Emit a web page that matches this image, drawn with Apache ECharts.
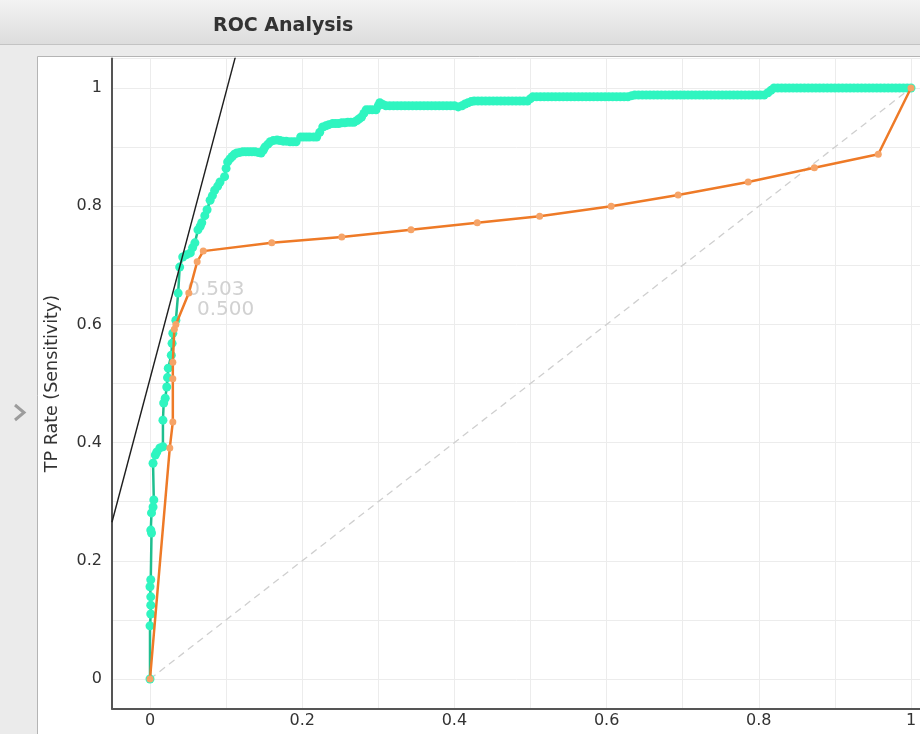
<!DOCTYPE html>
<html>
<head>
<meta charset="utf-8">
<title>ROC Analysis</title>
<script src="https://cdn.jsdelivr.net/npm/echarts@6/dist/echarts.min.js"></script>
<style>
  html, body { margin: 0; padding: 0; background: #ebebeb; }
  #chart { width: 920px; height: 734px; }
</style>
</head>
<body>
<div id="chart"></div>
<script>
// Model A: dense ROC curve, [false positive rate, true positive rate]
const modelAPoints = [
  [0.000, 0.000], [0.000, 0.090], [0.001, 0.110], [0.001, 0.125], [0.001, 0.139],
  [0.000, 0.156], [0.001, 0.168], [0.002, 0.247], [0.001, 0.252], [0.002, 0.281],
  [0.004, 0.291], [0.005, 0.303], [0.004, 0.365], [0.007, 0.379], [0.009, 0.384],
  [0.013, 0.391], [0.017, 0.393], [0.017, 0.438], [0.018, 0.467], [0.020, 0.475],
  [0.022, 0.494], [0.023, 0.510], [0.024, 0.526], [0.028, 0.548], [0.029, 0.568],
  [0.030, 0.585], [0.034, 0.607], [0.037, 0.653], [0.039, 0.697], [0.043, 0.714],
  [0.048, 0.718], [0.053, 0.721], [0.056, 0.730], [0.059, 0.738], [0.063, 0.760],
  [0.066, 0.766], [0.068, 0.772], [0.072, 0.784], [0.075, 0.794], [0.079, 0.810],
  [0.082, 0.818], [0.085, 0.827], [0.089, 0.834], [0.092, 0.841], [0.098, 0.850],
  [0.100, 0.864], [0.102, 0.875], [0.105, 0.880], [0.108, 0.884], [0.111, 0.888],
  [0.114, 0.890], [0.118, 0.891], [0.122, 0.892], [0.126, 0.892], [0.130, 0.892],
  [0.134, 0.892], [0.138, 0.892], [0.142, 0.891], [0.146, 0.890], [0.149, 0.895],
  [0.151, 0.900], [0.155, 0.905], [0.158, 0.909], [0.162, 0.911], [0.167, 0.912],
  [0.171, 0.911], [0.175, 0.910], [0.179, 0.910], [0.184, 0.909], [0.188, 0.909],
  [0.192, 0.909], [0.198, 0.917], [0.202, 0.917], [0.206, 0.917], [0.210, 0.917],
  [0.215, 0.917], [0.219, 0.917], [0.223, 0.925], [0.227, 0.934], [0.231, 0.936],
  [0.235, 0.938], [0.240, 0.940], [0.244, 0.940], [0.248, 0.940], [0.252, 0.941],
  [0.256, 0.941], [0.260, 0.942], [0.264, 0.942], [0.268, 0.942], [0.272, 0.945],
  [0.275, 0.948], [0.278, 0.951], [0.281, 0.957], [0.284, 0.963], [0.288, 0.963],
  [0.292, 0.963], [0.297, 0.963], [0.300, 0.970], [0.302, 0.975], [0.306, 0.972],
  [0.310, 0.970], [0.315, 0.970], [0.320, 0.970], [0.325, 0.970], [0.330, 0.970],
  [0.335, 0.970], [0.340, 0.970], [0.345, 0.970], [0.350, 0.970], [0.355, 0.970],
  [0.360, 0.970], [0.365, 0.970], [0.370, 0.970], [0.375, 0.970], [0.380, 0.970],
  [0.385, 0.970], [0.390, 0.970], [0.395, 0.970], [0.400, 0.970], [0.405, 0.968],
  [0.410, 0.970], [0.414, 0.973], [0.418, 0.975], [0.422, 0.977], [0.426, 0.978],
  [0.431, 0.978], [0.436, 0.978], [0.441, 0.978], [0.446, 0.978], [0.451, 0.978],
  [0.456, 0.978], [0.461, 0.978], [0.466, 0.978], [0.471, 0.978], [0.476, 0.978],
  [0.481, 0.978], [0.486, 0.978], [0.491, 0.978], [0.496, 0.978], [0.500, 0.982],
  [0.503, 0.985], [0.508, 0.985], [0.513, 0.985], [0.518, 0.985], [0.523, 0.985],
  [0.528, 0.985], [0.533, 0.985], [0.538, 0.985], [0.543, 0.985], [0.548, 0.985],
  [0.553, 0.985], [0.558, 0.985], [0.563, 0.985], [0.568, 0.985], [0.573, 0.985],
  [0.578, 0.985], [0.583, 0.985], [0.588, 0.985], [0.593, 0.985], [0.598, 0.985],
  [0.603, 0.985], [0.608, 0.985], [0.613, 0.985], [0.618, 0.985], [0.623, 0.985],
  [0.628, 0.985], [0.633, 0.987], [0.637, 0.988], [0.642, 0.988], [0.647, 0.988],
  [0.652, 0.988], [0.657, 0.988], [0.662, 0.988], [0.667, 0.988], [0.672, 0.988],
  [0.677, 0.988], [0.682, 0.988], [0.687, 0.988], [0.692, 0.988], [0.697, 0.988],
  [0.702, 0.988], [0.707, 0.988], [0.712, 0.988], [0.717, 0.988], [0.722, 0.988],
  [0.727, 0.988], [0.732, 0.988], [0.737, 0.988], [0.742, 0.988], [0.747, 0.988],
  [0.752, 0.988], [0.757, 0.988], [0.762, 0.988], [0.767, 0.988], [0.772, 0.988],
  [0.777, 0.988], [0.782, 0.988], [0.787, 0.988], [0.792, 0.988], [0.797, 0.988],
  [0.802, 0.988], [0.807, 0.988], [0.812, 0.992], [0.816, 0.996], [0.820, 1.000],
  [0.825, 1.000], [0.830, 1.000], [0.835, 1.000], [0.840, 1.000], [0.845, 1.000],
  [0.850, 1.000], [0.855, 1.000], [0.860, 1.000], [0.865, 1.000], [0.870, 1.000],
  [0.875, 1.000], [0.880, 1.000], [0.885, 1.000], [0.890, 1.000], [0.895, 1.000],
  [0.900, 1.000], [0.905, 1.000], [0.910, 1.000], [0.915, 1.000], [0.920, 1.000],
  [0.925, 1.000], [0.930, 1.000], [0.935, 1.000], [0.940, 1.000], [0.945, 1.000],
  [0.950, 1.000], [0.955, 1.000], [0.960, 1.000], [0.965, 1.000], [0.970, 1.000],
  [0.975, 1.000], [0.980, 1.000], [0.985, 1.000], [0.990, 1.000], [0.995, 1.000],
  [1.000, 1.000]
];

// Model B: coarse ROC curve
const modelBFpr = [0.000, 0.026, 0.030, 0.030, 0.030, 0.032, 0.034, 0.051, 0.062, 0.070,
                   0.160, 0.252, 0.343, 0.430, 0.512, 0.606, 0.694, 0.786, 0.873, 0.957, 1.000];
const modelBTpr = [0.000, 0.391, 0.435, 0.508, 0.536, 0.592, 0.600, 0.653, 0.706, 0.724,
                   0.738, 0.748, 0.760, 0.772, 0.783, 0.800, 0.819, 0.841, 0.865, 0.888, 1.000];

// Chance diagonal
const chanceX = [0, 1];
const chanceY = [0, 1];

// Iso-performance line: tpr = intercept + slope * fpr
const isoIntercept = 0.508;
const isoSlope = 4.855;
const isoX = [-0.05, 0.12];

// Threshold annotations near the operating points
const thresholdLabels = ['0.503', '0.500'];
const thresholdX = [0.049, 0.0618];
const thresholdY = [0.658, 0.624];

const axisTicks = ['0', '0.2', '0.4', '0.6', '0.8', '1'];
const yAxisName = 'TP Rate (Sensitivity)';
const titleText = 'ROC Analysis';

const zip = (xs, ys) => xs.map((x, i) => [x, ys[i]]);

function tickFormatter(v) {
  const r = Math.round(v * 10) / 10;
  if (Math.abs(v - r) > 1e-6) return '';
  const s = r === 0 ? '0' : (r === 1 ? '1' : r.toFixed(1));
  return axisTicks.indexOf(s) >= 0 ? s : '';
}

const FONT = '"DejaVu Sans", "Liberation Sans", Arial, sans-serif';

const chart = echarts.init(document.getElementById('chart'), null, { renderer: 'canvas' });

const option = {
  animation: false,
  backgroundColor: '#ebebeb',
  graphic: [
    {
      type: 'rect', z: -10, silent: true,
      shape: { x: 0, y: 0, width: 920, height: 44 },
      style: {
        fill: new echarts.graphic.LinearGradient(0, 0, 0, 1, [
          { offset: 0, color: '#f3f3f3' },
          { offset: 1, color: '#dddddd' }
        ])
      }
    },
    {
      type: 'line', z: -9, silent: true,
      shape: { x1: 0, y1: 44.5, x2: 920, y2: 44.5 },
      style: { stroke: '#c3c3c3', lineWidth: 1 }
    },
    {
      type: 'rect', z: -8, silent: true,
      shape: { x: 37.5, y: 56.5, width: 900, height: 700 },
      style: { fill: '#ffffff', stroke: '#b4b4b4', lineWidth: 1 }
    },
    {
      type: 'text', z: 5, silent: true,
      left: 213, top: 17,
      style: { text: titleText, font: 'bold 19px ' + FONT, fill: '#333333' }
    },
    {
      type: 'polyline', z: 5, silent: true,
      shape: { points: [[15, 405], [24, 412.5], [15, 420]] },
      style: { stroke: '#9c9c9c', lineWidth: 3, fill: null }
    }
  ],
  grid: {
    left: 111.95,
    top: 58.45,
    width: 837.1,
    height: 650.1,
    outerBoundsMode: 'none',
    containLabel: false
  },
  xAxis: {
    type: 'value',
    min: -0.05,
    max: 1.05,
    splitNumber: 11,
    axisLine: { show: true, onZero: false, lineStyle: { color: '#555555', width: 2 } },
    axisTick: { show: false },
    splitLine: { show: true, lineStyle: { color: '#ececec', width: 1 } },
    axisLabel: {
      margin: 4,
      color: '#333333',
      fontSize: 16,
      fontFamily: FONT,
      formatter: tickFormatter,
      hideOverlap: false
    }
  },
  yAxis: {
    type: 'value',
    min: -0.05,
    max: 1.05,
    splitNumber: 11,
    name: yAxisName,
    nameLocation: 'middle',
    nameGap: 50,
    nameTextStyle: { color: '#333333', fontSize: 17.5, fontFamily: FONT },
    axisLine: { show: true, onZero: false, lineStyle: { color: '#555555', width: 2 } },
    axisTick: { show: false },
    splitLine: { show: true, lineStyle: { color: '#ececec', width: 1 } },
    axisLabel: {
      margin: 10,
      color: '#333333',
      fontSize: 16,
      fontFamily: FONT,
      formatter: tickFormatter,
      hideOverlap: false
    }
  },
  series: [
    {
      name: 'chance',
      type: 'line',
      z: 1,
      data: zip(chanceX, chanceY),
      symbol: 'none',
      silent: true,
      lineStyle: { color: '#cfcfcf', width: 1.3, type: [7, 5] }
    },
    {
      name: 'thresholds',
      type: 'scatter',
      z: 1,
      data: zip(thresholdX, thresholdY),
      symbolSize: 0,
      silent: true,
      label: {
        show: true,
        position: 'right',
        distance: 0,
        formatter: (p) => thresholdLabels[p.dataIndex],
        color: '#c6c6c6',
        fontSize: 20,
        fontFamily: FONT
      }
    },
    {
      name: 'Model A',
      type: 'line',
      z: 3,
      data: modelAPoints,
      symbol: 'circle',
      symbolSize: 9,
      lineStyle: { color: '#1fbf8f', width: 2.5 },
      itemStyle: { color: '#2ff5c0', borderWidth: 0 }
    },
    {
      name: 'Model B',
      type: 'line',
      z: 4,
      data: zip(modelBFpr, modelBTpr),
      symbol: 'circle',
      symbolSize: 7,
      lineStyle: { color: '#ee7a27', width: 2.5 },
      itemStyle: { color: '#f6a468', borderWidth: 0 }
    },
    {
      name: 'iso-performance',
      type: 'line',
      z: 5,
      data: isoX.map(x => [x, isoIntercept + isoSlope * x]),
      symbol: 'none',
      silent: true,
      lineStyle: { color: '#1e1e1e', width: 1.4 }
    }
  ]
};

chart.setOption(option);
</script>
</body>
</html>
